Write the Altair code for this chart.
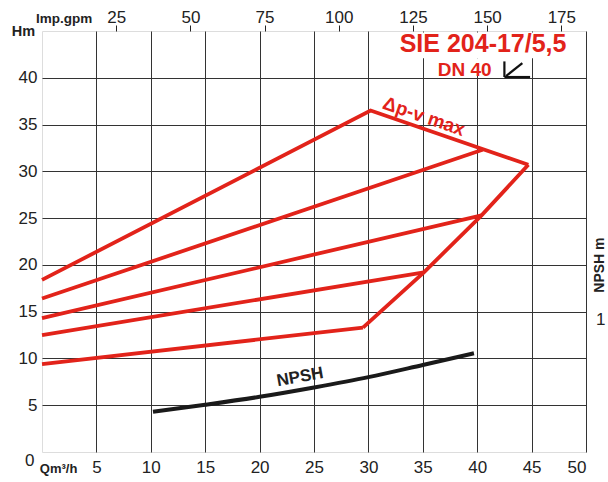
import altair as alt
import pandas as pd

RED = "#e2231a"
INK = "#222222"
FONT = "Liberation Sans"

# ---- data ----
q_max = [0, 30.2, 44.7]
h_max = [18.4, 36.5, 30.7]
q_c2 = [0, 40.5]
h_c2 = [16.4, 32.3]
q_c3 = [0, 40.4]
h_c3 = [14.3, 25.3]
q_c4 = [0, 35.1]
h_c4 = [12.5, 19.2]
q_c5 = [0, 29.5]
h_c5 = [9.4, 13.3]
q_env = [44.7, 40.4, 35.1, 29.5]
h_env = [30.7, 25.3, 19.2, 13.3]

q_npsh = [10.2, 15, 20, 25, 30, 35, 39.7]
h_npsh = [4.3, 5.05, 5.9, 6.9, 8.0, 9.3, 10.55]

x_ticks = [5, 10, 15, 20, 25, 30, 35, 40, 45, 50]
y_ticks = [5, 10, 15, 20, 25, 30, 35, 40]
gpm_ticks = [25, 50, 75, 100, 125, 150, 175]
M3H_PER_GPM = 0.272765

XD = [0, 50]
YD = [0, 45]

rows = []
for name, qs, hs in [("max", q_max, h_max), ("c2", q_c2, h_c2), ("c3", q_c3, h_c3),
                     ("c4", q_c4, h_c4), ("c5", q_c5, h_c5), ("env", q_env, h_env)]:
    for i, (q, h) in enumerate(zip(qs, hs)):
        rows.append({"series": name, "i": i, "q": q, "h": h})
df_curves = pd.DataFrame(rows)
df_npsh = pd.DataFrame({"q": q_npsh, "h": h_npsh})

x_axis = alt.Axis(values=x_ticks, grid=True, gridColor="#333333", gridWidth=1, ticks=False,
                  domain=False, labelFontSize=17, labelFont=FONT, labelColor=INK,
                  labelPadding=7, title=None, orient="bottom", labelOverlap=False)
y_axis = alt.Axis(values=y_ticks, grid=True, gridColor="#333333", gridWidth=1, ticks=False,
                  domain=False, labelFontSize=17, labelFont=FONT, labelColor=INK,
                  labelPadding=5, title=None, labelOverlap=False)


def xs(field="x"):
    return alt.X(f"{field}:Q", scale=alt.Scale(domain=XD, nice=False, zero=False), axis=x_axis)


def ys(field="y"):
    return alt.Y(f"{field}:Q", scale=alt.Scale(domain=YD, nice=False, zero=False), axis=y_axis)


# white background behind the title text
bg_x = [32.6, 35.9]
bg_x2 = [48.2, 41.9]
bg_y = [42.1, 40.2]
bg_y2 = [44.85, 42.1]
bg = alt.Chart(pd.DataFrame({"x": bg_x, "x2": bg_x2, "y": bg_y, "y2": bg_y2})).mark_rect(
    color="white").encode(x=xs("x"), x2="x2:Q", y=ys("y"), y2="y2:Q")

curves = alt.Chart(df_curves).mark_line(color=RED, strokeWidth=3.8, strokeJoin="miter").encode(
    x=xs("q"), y=ys("h"), detail="series:N", order="i:Q")

npsh = alt.Chart(df_npsh).mark_line(color="#1a1a1a", strokeWidth=4, interpolate="monotone").encode(
    x=xs("q"), y=ys("h"))

# symbol next to "DN 40"
sym_x = [42.5, 42.5, 42.65]
sym_y = [41.75, 40.08, 40.18]
sym_x2 = [42.5, 44.86, 44.15]
sym_y2 = [40.08, 40.08, 41.57]
symbol = alt.Chart(pd.DataFrame({"x": sym_x, "y": sym_y, "x2": sym_x2, "y2": sym_y2})).mark_rule(
    color="#111111", strokeWidth=2.2).encode(x=xs("x"), y=ys("y"), x2="x2:Q", y2="y2:Q")


def label(text, x, y, size, color=INK, weight="bold", angle=0, align="center", baseline="middle"):
    return alt.Chart(pd.DataFrame({"x": [x], "y": [y], "t": [text]})).mark_text(
        font=FONT, fontSize=size, fontWeight=weight, color=color, angle=angle,
        align=align, baseline=baseline).encode(x=xs("x"), y=ys("y"), text="t:N")


texts = [
    label("SIE 204-17/5,5", 40.54, 43.56, 25, RED),
    label("DN 40", 38.84, 40.84, 19, RED),
    label("Δp-v max", 35.1, 35.85, 19, RED, angle=19),
    label("NPSH", 23.72, 8.0, 17, INK, angle=350),
    label("Hm", -1.71, 44.88, 14.5, INK),
    label("Imp.gpm", 2.03, 46.3, 13.5, INK),
    label("Qm³/h", 1.53, -1.85, 13, INK),
    label("0", -1.12, -1.0, 17, INK, weight="normal"),
    label("NPSH m", 51.25, 19.98, 14, INK, angle=270),
    label("1", 50.93, 14.1, 17, INK, weight="normal", align="left"),
]

main = alt.layer(bg, curves, npsh, symbol, *texts)

top = alt.Chart(pd.DataFrame({"gpm": gpm_ticks})).mark_point(opacity=0).encode(
    x=alt.X("gpm:Q", scale=alt.Scale(domain=[0, 50 / M3H_PER_GPM], nice=False, zero=False),
            axis=alt.Axis(orient="top", values=gpm_ticks, grid=False, domain=False, ticks=True,
                          tickSize=6, tickColor=INK, tickWidth=1, labelFontSize=17,
                          labelFont=FONT, labelColor=INK, labelPadding=-1, title=None,
                          labelOverlap=False)),
    y=alt.value(0))

chart = alt.layer(main, top).resolve_scale(x="independent").properties(
    width=544, height=421,
    padding={"left": 42, "top": 31, "right": 22, "bottom": 30},
    autosize=alt.AutoSizeParams(type="none"),
).configure_view(stroke="#111111", strokeWidth=1.5).configure(background="white")

chart.save("out.html", embed_options={"renderer": "svg", "actions": False})
